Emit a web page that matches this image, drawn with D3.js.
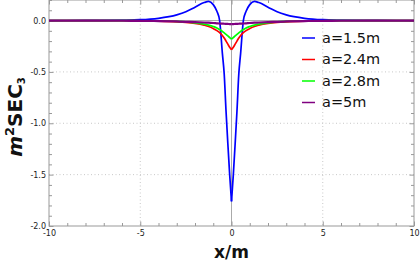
<!DOCTYPE html>
<html lang="en">
<head>
    <meta charset="UTF-8">
    <title>m2 SEC3 vs x</title>
    <script src="https://d3js.org/d3.v7.min.js"></script>
    <style>
        body { margin: 0; background: #fff; }
        svg { display: block; }
        text { font-family: "DejaVu Sans", sans-serif; }
    </style>
</head>
<body>
<svg width="420" height="261"></svg>
<script>
    // sample positions (m), shared by all series
    const xs = [-10, -8, -6, -5, -4, -3, -2.5, -2, -1.5, -1.25, -1, -0.8, -0.65, -0.5, -0.4, -0.3, -0.2, -0.1, 0,
                0.1, 0.2, 0.3, 0.4, 0.5, 0.65, 0.8, 1, 1.25, 1.5, 2, 2.5, 3, 4, 5, 6, 8, 10];

    // values
    const a15 = [0, 0.001, 0.004, 0.008, 0.022, 0.055, 0.085, 0.13, 0.175, 0.186, 0.155, 0.09, 0, -0.32, -0.52, -0.88, -1.2, -1.5, -1.76,
                 -1.5, -1.2, -0.88, -0.52, -0.32, 0, 0.09, 0.155, 0.186, 0.175, 0.13, 0.085, 0.055, 0.022, 0.008, 0.004, 0.001, 0];
    const a24 = [0, -0.001, -0.001, -0.002, -0.005, -0.012, -0.018, -0.028, -0.045, -0.058, -0.078, -0.098, -0.118, -0.145, -0.17, -0.2, -0.23, -0.26, -0.285,
                 -0.26, -0.23, -0.2, -0.17, -0.145, -0.118, -0.098, -0.078, -0.058, -0.045, -0.028, -0.018, -0.012, -0.005, -0.002, -0.001, -0.001, 0];
    const a28 = [0, -0.001, -0.001, -0.002, -0.004, -0.008, -0.013, -0.022, -0.035, -0.045, -0.058, -0.072, -0.088, -0.105, -0.12, -0.135, -0.15, -0.165, -0.18,
                 -0.165, -0.15, -0.135, -0.12, -0.105, -0.088, -0.072, -0.058, -0.045, -0.035, -0.022, -0.013, -0.008, -0.004, -0.002, -0.001, -0.001, 0];
    const a5 = [0, 0, -0.002, -0.003, -0.005, -0.009, -0.012, -0.015, -0.019, -0.021, -0.024, -0.027, -0.029, -0.03, -0.031, -0.032, -0.033, -0.034, -0.035,
                -0.034, -0.033, -0.032, -0.031, -0.03, -0.029, -0.027, -0.024, -0.021, -0.019, -0.015, -0.012, -0.009, -0.005, -0.003, -0.002, 0, 0];

    const seriesNames = ["a=1.5m", "a=2.4m", "a=2.8m", "a=5m"];
    const seriesVals = [a15, a24, a28, a5];
    const seriesColors = ["#0000ff", "#ff0000", "#00ff00", "#800080"];

    const xTickLabels = [-10, -5, 0, 5, 10];
    const yTickLabels = [-2.0, -1.5, -1.0, -0.5, 0.0];

    const svg = d3.select("svg");
    const pLeft = 49, pRight = 414, pTop = 0, pBottom = 226;

    const x = d3.scaleLinear().domain([-10, 10]).range([pLeft, pRight]);
    const y = d3.scaleLinear().domain([-2, 0.2]).range([pBottom, pTop]);

    const fmt = d => d3.format(".1f")(d).replace("\u2212", "-");
    const fmtX = d => String(d);

    // dotted grid at major ticks
    const grid = svg.append("g").attr("stroke", "#c8c8c8").attr("stroke-dasharray", "1,2.5");
    grid.selectAll(".gx").data([-5, 5]).join("line")
        .attr("x1", d => x(d)).attr("x2", d => x(d)).attr("y1", pTop).attr("y2", pBottom);
    grid.selectAll(".gy").data([-1.5, -1.0, -0.5]).join("line")
        .attr("x1", pLeft).attr("x2", pRight).attr("y1", d => y(d)).attr("y2", d => y(d));

    // zero lines
    svg.append("line").attr("x1", x(0)).attr("x2", x(0)).attr("y1", pTop).attr("y2", pBottom)
        .attr("stroke", "#aaa");
    svg.append("line").attr("x1", pLeft).attr("x2", pRight).attr("y1", y(0)).attr("y2", y(0))
        .attr("stroke", "#aaa");

    // frame
    svg.append("rect").attr("x", pLeft).attr("y", pTop).attr("width", pRight - pLeft).attr("height", pBottom - pTop)
        .attr("fill", "none").attr("stroke", "#999");

    const xMinor = d3.range(-10, 11, 1);
    const yMinor = d3.range(-20, 3, 1).map(v => v / 10);
    const isMajX = d => xTickLabels.includes(d);
    const isMajY = d => Math.abs(d * 2 - Math.round(d * 2)) < 1e-6;

    function styleAxis(g) {
        g.select(".domain").remove();
        g.selectAll(".tick line").attr("stroke", "#999");
        g.selectAll(".tick text").attr("fill", "#222").attr("font-size", 8)
            .attr("font-family", "DejaVu Sans, sans-serif");
    }

    svg.append("g").attr("transform", `translate(0,${pBottom})`)
        .call(d3.axisBottom(x).tickValues(xMinor).tickSize(-3).tickPadding(4.5)
            .tickFormat(d => isMajX(d) ? fmtX(d) : ""))
        .call(g => styleAxis(g))
        .call(g => g.selectAll(".tick line").attr("y2", d => isMajX(d) ? -4.5 : -3));

    svg.append("g").attr("transform", `translate(0,${pTop})`)
        .call(d3.axisTop(x).tickValues(xMinor).tickSize(-3).tickFormat(""))
        .call(g => styleAxis(g))
        .call(g => g.selectAll(".tick line").attr("y2", d => isMajX(d) ? 4.5 : 3));

    svg.append("g").attr("transform", `translate(${pLeft},0)`)
        .call(d3.axisLeft(y).tickValues(yMinor).tickSize(-3).tickPadding(3)
            .tickFormat(d => yTickLabels.some(v => Math.abs(v - d) < 1e-6) ? fmt(d) : ""))
        .call(g => styleAxis(g))
        .call(g => g.selectAll(".tick line").attr("x2", d => isMajY(d) ? 4.5 : 3));

    svg.append("g").attr("transform", `translate(${pRight},0)`)
        .call(d3.axisRight(y).tickValues(yMinor).tickSize(-3).tickFormat(""))
        .call(g => styleAxis(g))
        .call(g => g.selectAll(".tick line").attr("x2", d => isMajY(d) ? -4.5 : -3));

    // curves, split at x = 0 so the cusp stays sharp
    const line = d3.line().x(d => x(d[0])).y(d => y(d[1])).curve(d3.curveMonotoneX);
    const plot = svg.append("g");
    seriesVals.forEach((vals, i) => {
        const pts = xs.map((xv, j) => [xv, vals[j]]);
        [pts.filter(p => p[0] <= 0), pts.filter(p => p[0] >= 0)].forEach(half => {
            plot.append("path")
                .attr("d", line(half))
                .attr("fill", "none")
                .attr("stroke", seriesColors[i])
                .attr("stroke-width", i === 3 ? 2.2 : 1.7)
                .attr("stroke-linejoin", "round");
        });
    });

    // legend
    const legend = svg.append("g");
    seriesNames.forEach((name, i) => {
        const ly = 38 + i * 21.5;
        legend.append("line").attr("x1", 302).attr("x2", 315).attr("y1", ly).attr("y2", ly)
            .attr("stroke", seriesColors[i]).attr("stroke-width", 1.5);
        legend.append("text").attr("x", 322).attr("y", ly + 4.8)
            .attr("font-size", 14.5).attr("fill", "#111").text(name);
    });

    // axis titles
    svg.append("text").attr("x", x(0)).attr("y", 258).attr("text-anchor", "middle")
        .attr("font-size", 17).attr("font-weight", "bold").attr("fill", "#111").text("x/m");

    const yt = svg.append("text")
        .attr("transform", "translate(22,117) rotate(-90)")
        .attr("text-anchor", "middle").attr("font-size", 20).attr("font-weight", "bold").attr("fill", "#111");
    yt.append("tspan").attr("font-style", "italic").text("m");
    yt.append("tspan").attr("font-size", 13).attr("dy", -8).text("2");
    yt.append("tspan").attr("dy", 8).text("SEC");
    yt.append("tspan").attr("font-size", 10).attr("dy", 3).text("3");
</script>
</body>
</html>
